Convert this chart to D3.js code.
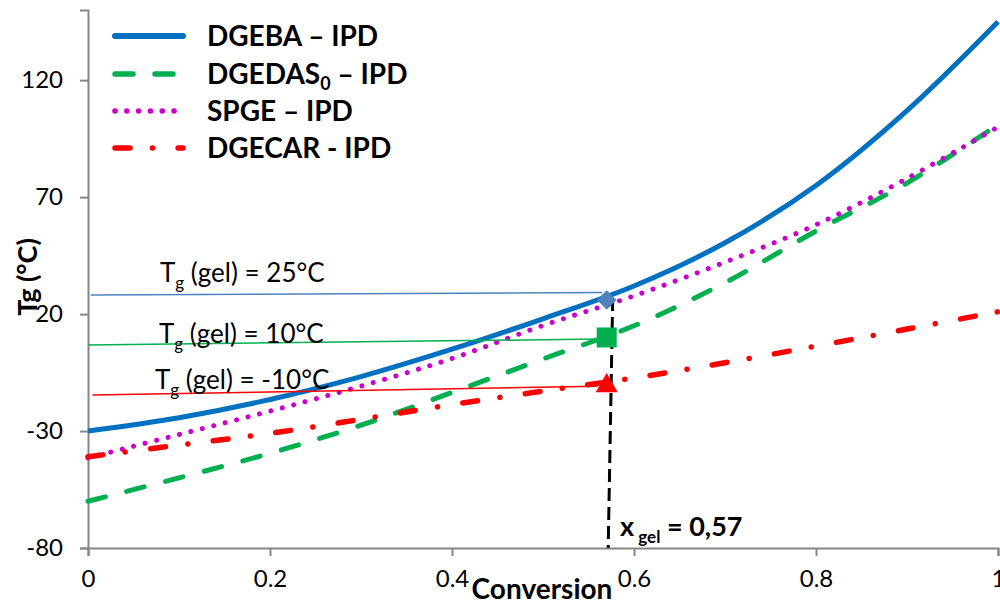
<!DOCTYPE html>
<html>
<head>
<meta charset="utf-8">
<script src="https://cdn.jsdelivr.net/npm/d3@7"></script>
<style>
  body { margin: 0; background: #fff; }
  text { font-family: Lato, "Liberation Sans", sans-serif; fill: #000; }
</style>
</head>
<body>
<svg id="chart" width="1000" height="608"></svg>
<script>
// values
var conversion = [0, 0.1, 0.2, 0.3, 0.4, 0.5, 0.6, 0.7, 0.8, 0.9, 1.0];
var dgeba  = [-30, -24.3, -16.5, -6.7, 5, 18, 32, 50.5, 75, 107, 145];
var dgedas = [-60, -50, -39.5, -27.5, -13.5, 0.8, 15, 33.4, 55.5, 76, 101];
var spge   = [-41.5, -31.5, -21.5, -10.8, 1, 15.1, 27.8, 42.2, 58.2, 78, 100];
var dgecar = [-41, -36, -31, -25, -18.7, -12.9, -7.3, -0.8, 6.3, 13.6, 21];

var xTicks = [0, 0.2, 0.4, 0.6, 0.8, 1];
var yTicks = [-80, -30, 20, 70, 120];

var xGel = 0.57;
var gelTg = [26, 10, -9.8];           // marker values at x gel
var guideX0 = [0.003, 0, 0.005];     // thin guide lines start
var guideY0 = [28.2, 6.8, -14.6];
var guideX1 = [0.565, 0.56, 0.56];
var guideY1 = [29.2, 9.3, -10.8];
var gelLabels = ["25°C", "10°C", "-10°C"];

var names = ["DGEBA – IPD", "DGEDAS", "SPGE – IPD", "DGECAR - IPD"];
var colors = ["#0070C0", "#00B050", "#CC00CC", "#FF0000"];
var dashes = [null, "18,22", "0.1,11.7", "15,22.5,0.1,25.5"];
var guideColors = ["#4F81BD", "#00B050", "#FF0000"];

var svg = d3.select("#chart");

var x = d3.scaleLinear().domain([0, 1]).range([88, 998]);
var y = d3.scaleLinear().domain([-80, 150]).range([548, 10]);

// axes
var xAxis = svg.append("g")
  .attr("transform", "translate(0," + y(-80) + ")")
  .call(d3.axisBottom(x).tickValues(xTicks).tickSize(8).tickFormat(function(d) { return String(d); }));
var yAxis = svg.append("g")
  .attr("transform", "translate(" + x(0) + ",0)")
  .call(d3.axisLeft(y).tickValues(yTicks).tickSize(8).tickFormat(function(d) { return String(d); }));

[xAxis, yAxis].forEach(function(a) {
  a.select(".domain").attr("stroke", "#868686").attr("stroke-width", 2);
  a.selectAll(".tick line").attr("stroke", "#868686").attr("stroke-width", 2);
  a.selectAll(".tick text").style("font-size", "24px").style("font-family", "Lato, 'Liberation Sans', sans-serif").attr("fill", "#000");
});
xAxis.selectAll(".tick text").attr("y", 22).attr("dy", "0.71em");
yAxis.selectAll(".tick text").attr("x", -25);

// series
var series = [dgeba, dgedas, spge, dgecar];
var line = d3.line()
  .x(function(d, i) { return x(conversion[i]); })
  .y(function(d) { return y(d); })
  .curve(d3.curveCatmullRom.alpha(0.5));

series.forEach(function(s, i) {
  svg.append("path")
    .datum(s)
    .attr("d", line)
    .attr("fill", "none")
    .attr("stroke", colors[i])
    .attr("stroke-width", i == 3 ? 5.5 : 5)
    .attr("stroke-linecap", i == 0 ? "butt" : "round")
    .attr("stroke-dasharray", dashes[i]);
});

// guide lines towards the gel points
gelTg.forEach(function(t, i) {
  svg.append("line")
    .attr("x1", x(guideX0[i])).attr("y1", y(guideY0[i]))
    .attr("x2", x(guideX1[i])).attr("y2", y(guideY1[i]))
    .attr("stroke", guideColors[i])
    .attr("stroke-width", 1.5);
});

// vertical dashed line at x gel
svg.append("line")
  .attr("x1", x(xGel) + 6).attr("y1", y(gelTg[0]) - 2)
  .attr("x2", x(xGel) + 1.5).attr("y2", y(-80))
  .attr("stroke", "#000")
  .attr("stroke-width", 3)
  .attr("stroke-dasharray", "13,6");

// markers
svg.append("path")
  .attr("d", d3.symbol().type(d3.symbolSquare).size(190))
  .attr("transform", "translate(" + x(xGel) + "," + y(gelTg[0]) + ") rotate(45)")
  .attr("fill", guideColors[0]);
svg.append("rect")
  .attr("x", x(xGel) - 10).attr("y", y(gelTg[1]) - 10)
  .attr("width", 20).attr("height", 20)
  .attr("fill", guideColors[1]);
svg.append("path")
  .attr("d", d3.symbol().type(d3.symbolTriangle).size(210))
  .attr("transform", "translate(" + x(xGel) + "," + (y(gelTg[2]) + 2) + ")")
  .attr("fill", guideColors[2]);

// Tg (gel) labels
var labelPos = [[160, 282], [159, 343], [155, 389]];
gelLabels.forEach(function(l, i) {
  var t = svg.append("text")
    .attr("x", labelPos[i][0]).attr("y", labelPos[i][1])
    .style("font-size", "26px");
  t.append("tspan").text("T");
  t.append("tspan").attr("dy", 7).style("font-size", "17px").text("g");
  t.append("tspan").attr("dy", -7).text(" (gel) = " + l);
});

// x gel label
var xg = svg.append("text")
  .attr("x", 620).attr("y", 536)
  .style("font-size", "27px").style("font-weight", "bold");
xg.append("tspan").text("x");
xg.append("tspan").attr("dy", 7).style("font-size", "17px").text(" gel");
xg.append("tspan").attr("dy", -7).text(" = 0,57");

// axis titles
svg.append("text")
  .attr("x", 542).attr("y", 599)
  .attr("text-anchor", "middle")
  .style("font-size", "28px").style("font-weight", "bold")
  .text("Conversion");
svg.append("text")
  .attr("transform", "translate(37,277) rotate(-90)")
  .attr("text-anchor", "middle")
  .style("font-size", "27px").style("font-weight", "bold")
  .text("Tg (°C)");

// legend
var legendY = [36, 74, 111, 148];
var legend = svg.append("g").attr("class", "legend");
names.forEach(function(n, i) {
  var g = legend.append("g");
  g.append("line")
    .attr("x1", 115).attr("x2", 183)
    .attr("y1", legendY[i]).attr("y2", legendY[i])
    .attr("stroke", colors[i])
    .attr("stroke-width", i == 0 ? 6 : 5.5)
    .attr("stroke-linecap", "round")
    .attr("stroke-dasharray", dashes[i]);
  var t = g.append("text")
    .attr("x", 207).attr("y", legendY[i] + 10)
    .style("font-size", "28px").style("font-weight", "bold");
  if (i == 1) {
    t.append("tspan").text("DGEDAS");
    t.append("tspan").attr("dy", 6).style("font-size", "18px").text("0");
    t.append("tspan").attr("dy", -6).text(" – IPD");
  } else {
    t.text(n);
  }
});
</script>
</body>
</html>
